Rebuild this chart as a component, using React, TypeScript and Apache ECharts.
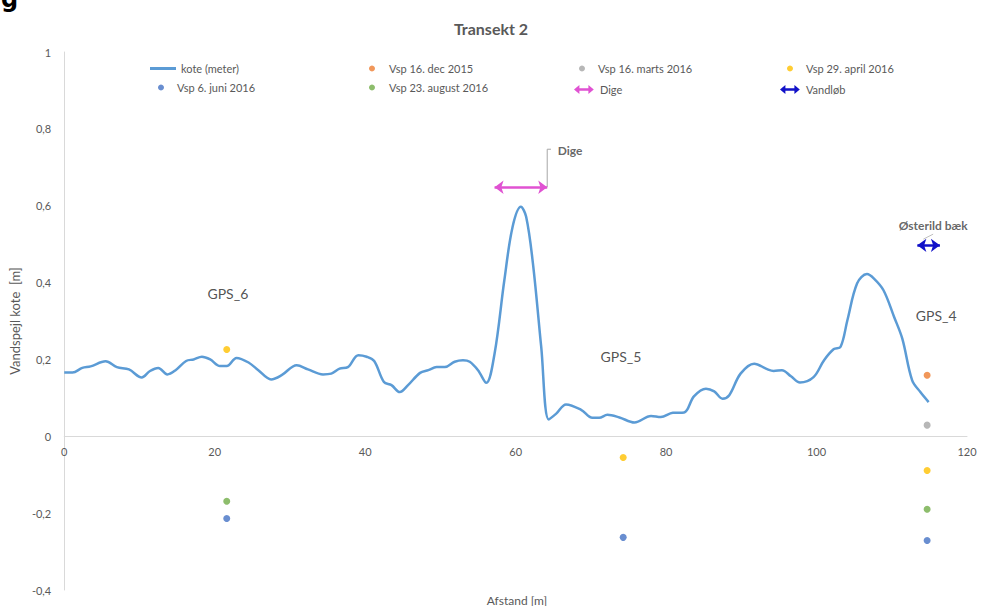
import React, { useEffect, useRef } from "react";
import * as echarts from "echarts";

// Terrain profile (Afstand [m], kote [m])
const distance = [
  0, 1.1, 2.4, 3.5, 5.5, 7.0, 8.6, 10.3, 11.4, 12.5, 13.7, 14.8, 16.2, 17.2, 18.3, 19.4, 20.7, 21.6,
  22.9, 24.5, 25.8, 27.5, 28.9, 30.9, 32.4, 34.4, 35.5, 36.6, 37.7, 39.1, 40.2, 41.2, 42.5, 43.5,
  44.6, 45.7, 47.3, 48.4, 49.5, 50.6, 51.9, 53.0, 53.9, 55.0, 56.1, 57.2, 58.5, 59.6, 60.7, 61.4,
  62.3, 63.4, 64.4, 65.4, 66.7, 68.7, 70.2, 71.1, 72.2, 73.8, 75.8, 78.0, 79.3, 80.9, 82.4, 83.7,
  85.3, 86.4, 87.5, 88.4, 89.9, 91.7, 93.5, 94.3, 95.4, 96.6, 97.8, 99.6, 101.0, 102.3, 103.2,
  104.1, 105.4, 106.7, 107.6, 108.9, 110.3, 111.4, 112.7, 113.8, 114.9,
];
const kote = [
  0.166, 0.166, 0.178, 0.182, 0.195, 0.18, 0.174, 0.153, 0.17, 0.178, 0.161, 0.172, 0.196, 0.2,
  0.207, 0.2, 0.183, 0.183, 0.204, 0.192, 0.172, 0.148, 0.159, 0.185, 0.174, 0.161, 0.163, 0.176,
  0.18, 0.211, 0.207, 0.196, 0.141, 0.133, 0.115, 0.133, 0.165, 0.172, 0.18, 0.18, 0.194, 0.198,
  0.194, 0.172, 0.139, 0.215, 0.406, 0.545, 0.597, 0.571, 0.45, 0.233, 0.044, 0.059, 0.083, 0.069,
  0.048, 0.048, 0.056, 0.049, 0.036, 0.053, 0.05, 0.061, 0.062, 0.104, 0.124, 0.117, 0.098, 0.107,
  0.163, 0.189, 0.174, 0.17, 0.172, 0.156, 0.14, 0.154, 0.198, 0.227, 0.233, 0.302, 0.398, 0.422,
  0.411, 0.38, 0.311, 0.254, 0.146, 0.115, 0.089,
];

// Water level measurements (x, y)
const vspDec2015 = [[114.7, 0.159]];
const vspMar2016 = [[114.7, 0.029]];
const vspApr2016 = [[21.6, 0.226], [74.3, -0.055], [114.7, -0.089]];
const vspJun2016 = [[21.6, -0.214], [74.3, -0.263], [114.7, -0.271]];
const vspAug2016 = [[21.6, -0.169], [114.7, -0.19]];

// Arrows
const digeFrom = [57.2, 0.648];
const digeTo = [64.2, 0.648];
const vandlobFrom = [113.4, 0.497];
const vandlobTo = [116.4, 0.497];

// Annotation texts
const gpsLabels = ["GPS_6", "GPS_5", "GPS_4"];
const gpsX = [21.75, 74.0, 115.9];
const gpsY = [0.372, 0.207, 0.315];
const digeLeader = [[64.2, 0.648], [64.2, 0.747], [64.7, 0.747]];
const digeLabelPos = [65.6, 0.743];
const baekLeader = [[114.2, 0.513], [115.5, 0.526]];
const baekLabelPos = [115.5, 0.549];

const xTicks = { min: 0, max: 120, interval: 20 };
const yTicks = { min: -0.4, max: 1, interval: 0.2 };

const FONT = "Lato, 'Open Sans', sans-serif";
const GREY = "#595959";
const C = {
  kote: "#5B9BD5",
  dec: "#ED7D31",
  mar: "#A5A5A5",
  apr: "#FFC000",
  jun: "#4472C4",
  aug: "#70AD47",
  dige: "#E052D2",
  vand: "#1212C8",
};

const arrowIcon =
  "path://M0,5 L6,0 L6,3.6 L16,3.6 L16,0 L22,5 L16,10 L16,6.4 L6,6.4 L6,10 Z";

const GRID = { left: 62, right: 15, top: 52, bottom: 16 };
const CHART_H = 606;

export default function App() {
  const ref = useRef<HTMLDivElement>(null);
  useEffect(() => {
    document.body.style.margin = "0";
    if (!ref.current) return;
    const chart = echarts.init(ref.current, undefined, { renderer: "svg" });

    // place the x axis (line + labels) at y = 0 of the value scale
    const plotH = CHART_H - GRID.top - GRID.bottom;
    const zeroFromBottom = ((0 - yTicks.min) / (yTicks.max - yTicks.min)) * plotH;

    const legendBase = (
      name: string,
      left: number,
      top: number,
      icon: string,
      w: number,
      h: number,
      pad: number
    ) => ({
      data: [{ name, icon }],
      left,
      top,
      padding: 0,
      itemWidth: w,
      itemHeight: h,
      selectedMode: false,
      textStyle: { fontFamily: FONT, fontSize: 11, color: GREY, padding: [0, 0, 0, pad] },
    });

    const markArrow = (from: number[], to: number[], color: string) => ({
      silent: true,
      symbol: ["arrow", "arrow"],
      symbolSize: [10, 9],
      label: { show: false },
      emphasis: { disabled: true },
      lineStyle: { color, width: 2.5, type: "solid" },
      data: [[{ coord: from }, { coord: to }]],
    });

    chart.setOption({
      animation: false,
      title: {
        text: "Transekt 2",
        left: "center",
        top: 15,
        textStyle: { fontFamily: FONT, fontSize: 16, fontWeight: "bold", color: GREY },
      },
      legend: [
        legendBase("kote (meter)", 150, 63, "rect", 26, 3, 0),
        legendBase("Vsp 16. dec 2015", 369, 63, "circle", 6, 6, 9),
        legendBase("Vsp 16. marts 2016", 579, 63, "circle", 6, 6, 8),
        legendBase("Vsp 29. april 2016", 787, 63, "circle", 6, 6, 8),
        legendBase("Vsp 6. juni 2016", 158, 82, "circle", 6, 6, 8),
        legendBase("Vsp 23. august 2016", 369, 82, "circle", 6, 6, 9),
        legendBase("Dige", 574, 84, arrowIcon, 22, 9, 0),
        legendBase("Vandløb", 780, 84, arrowIcon, 22, 9, 0),
      ],
      grid: { ...GRID, containLabel: false },
      xAxis: {
        type: "value",
        min: xTicks.min,
        max: xTicks.max,
        interval: xTicks.interval,
        position: "bottom",
        offset: -zeroFromBottom,
        axisLine: { onZero: false, lineStyle: { color: "#D9D9D9", width: 1 } },
        axisTick: { show: false },
        splitLine: { show: false },
        axisLabel: { fontFamily: FONT, fontSize: 11, color: GREY, margin: 10 },
      },
      yAxis: {
        type: "value",
        min: yTicks.min,
        max: yTicks.max,
        interval: yTicks.interval,
        name: "Vandspejl kote  [m]",
        nameLocation: "middle",
        nameGap: 35,
        nameTextStyle: { fontFamily: FONT, fontSize: 13, color: GREY },
        axisLine: { show: true, onZero: false, lineStyle: { color: "#D9D9D9", width: 1 } },
        axisTick: { show: false },
        splitLine: { show: false },
        axisLabel: {
          fontFamily: FONT,
          fontSize: 11,
          color: GREY,
          margin: 13,
          formatter: (v: number) => String(Math.round(v * 10) / 10).replace(".", ","),
        },
      },
      series: [
        {
          name: "kote (meter)",
          type: "line",
          data: distance.map((d, i) => [d, kote[i]]),
          showSymbol: false,
          smooth: 0.35,
          itemStyle: { color: C.kote },
          lineStyle: { color: C.kote, width: 2.5 },
          silent: true,
          z: 3,
        },
        { name: "Vsp 16. dec 2015", type: "scatter", data: vspDec2015, symbolSize: 7, itemStyle: { color: C.dec } },
        { name: "Vsp 16. marts 2016", type: "scatter", data: vspMar2016, symbolSize: 7, itemStyle: { color: C.mar } },
        { name: "Vsp 29. april 2016", type: "scatter", data: vspApr2016, symbolSize: 7, itemStyle: { color: C.apr } },
        { name: "Vsp 6. juni 2016", type: "scatter", data: vspJun2016, symbolSize: 7, itemStyle: { color: C.jun } },
        { name: "Vsp 23. august 2016", type: "scatter", data: vspAug2016, symbolSize: 7, itemStyle: { color: C.aug } },
        {
          name: "Dige",
          type: "line",
          data: [],
          itemStyle: { color: C.dige },
          lineStyle: { color: C.dige },
          markLine: markArrow(digeFrom, digeTo, C.dige),
        },
        {
          name: "Vandløb",
          type: "line",
          data: [],
          itemStyle: { color: C.vand },
          lineStyle: { color: C.vand },
          markLine: markArrow(vandlobFrom, vandlobTo, C.vand),
        },
        {
          type: "line",
          data: digeLeader,
          showSymbol: false,
          silent: true,
          lineStyle: { color: "#A6A6A6", width: 1 },
          itemStyle: { color: "#A6A6A6" },
        },
        {
          type: "line",
          data: baekLeader,
          showSymbol: false,
          silent: true,
          lineStyle: { color: "#BFBFBF", width: 1 },
          itemStyle: { color: "#BFBFBF" },
        },
        {
          type: "scatter",
          silent: true,
          symbolSize: 0,
          data: gpsLabels.map((t, i) => ({ value: [gpsX[i], gpsY[i]], name: t })),
          label: {
            show: true,
            position: "inside",
            formatter: "{b}",
            fontFamily: FONT,
            fontSize: 14,
            color: "#262626",
          },
        },
        {
          type: "scatter",
          silent: true,
          symbolSize: 0,
          data: [
            { value: digeLabelPos, name: "Dige", label: { position: "right", distance: 0 } },
            { value: baekLabelPos, name: "Østerild bæk", label: { position: "inside" } },
          ],
          label: {
            show: true,
            formatter: "{b}",
            fontFamily: FONT,
            fontSize: 12,
            fontWeight: "bold",
            color: "#404040",
          },
        },
      ],
      graphic: [
        {
          type: "text",
          left: 1,
          top: -13,
          style: { text: "g", font: "bold 24px 'DejaVu Sans', sans-serif", fill: "#000" },
          silent: true,
        },
        {
          type: "text",
          x: 517,
          y: 600,
          style: {
            text: "Afstand [m]",
            fontFamily: FONT,
            fontSize: 12,
            fill: GREY,
            align: "center",
            verticalAlign: "middle",
          },
          silent: true,
        },
      ],
    });
    return () => chart.dispose();
  }, []);
  return <div ref={ref} style={{ width: 982, height: CHART_H }} />;
}
